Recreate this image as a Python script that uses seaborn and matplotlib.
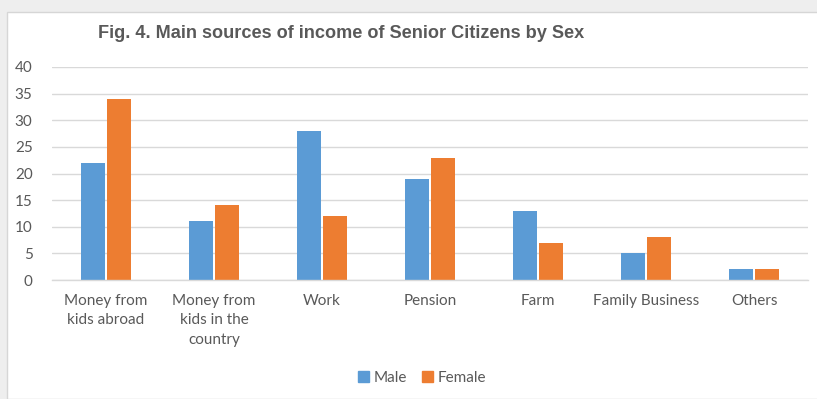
import matplotlib
matplotlib.use("Agg")
import matplotlib.pyplot as plt
import matplotlib.patches as mpatches
import seaborn as sns
import pandas as pd

categories = ["Money from\nkids abroad", "Money from\nkids in the\ncountry", "Work", "Pension",
              "Farm", "Family Business", "Others"]
male = [22, 11, 28, 19, 13, 5, 2]
female = [34, 14, 12, 23, 7, 8, 2]
series = ["Male", "Female"]
colors = ["#5B9BD5", "#ED7D31"]
yticks = [0, 5, 10, 15, 20, 25, 30, 35, 40]

df = pd.DataFrame({
    "Category": categories * 2,
    "Value": male + female,
    "Sex": [series[0]] * len(categories) + [series[1]] * len(categories),
})

sns.set_theme(style="white")
plt.rcParams['font.family'] = ['Lato', 'DejaVu Sans']

fig = plt.figure(figsize=(8.17, 3.99), dpi=100, facecolor="#eeeeee")
panel = mpatches.Rectangle((7 / 817, 0), 1, (399 - 12) / 399, transform=fig.transFigure,
                           facecolor="white", edgecolor="#d6d6d6", linewidth=1, zorder=-5)
fig.patches.append(panel)

ax = fig.add_axes([52 / 817, 1 - 280 / 399, 756 / 817, (280 - 67) / 399])
ax.set_facecolor("none")
ax.set_zorder(2)

sns.barplot(data=df, x="Category", y="Value", hue="Sex", hue_order=series,
            palette=colors, width=0.49, gap=0.1, ax=ax, saturation=1, legend=True,
            linewidth=0)

ax.set_xlim(-0.5, len(categories) - 0.5)
ax.set_ylim(0, 40)
ax.set_yticks(yticks)
ax.yaxis.grid(True, color="#d9d9d9", linewidth=1)
ax.set_axisbelow(True)
for s in ["top", "right", "left"]:
    ax.spines[s].set_visible(False)
ax.spines["bottom"].set_color("#d9d9d9")
ax.spines["bottom"].set_linewidth(1)
ax.tick_params(axis="both", length=0, colors="#595959", labelsize=11)
ax.tick_params(axis="x", pad=10)
ax.tick_params(axis="y", pad=14)
for lbl in ax.get_xticklabels():
    lbl.set_linespacing(1.5)
ax.set_xlabel("")
ax.set_ylabel("")

ax.legend_.remove()
handles = [mpatches.Patch(color=c, label=l) for c, l in zip(colors, series)]
leg = fig.legend(handles=handles, loc="center", bbox_to_anchor=(422 / 817, 1 - 378 / 399), ncol=2,
                 frameon=False, fontsize=11, handlelength=0.7, handleheight=0.7,
                 handletextpad=0.3, columnspacing=1.0, labelcolor="#595959")

fig.text(98 / 817, 1 - 33 / 399, "Fig. 4. Main sources of income of Senior Citizens by Sex",
         fontsize=13.1, fontweight="bold", color="#595959", va="center", ha="left",
         family=["Liberation Sans", "DejaVu Sans"])

fig.savefig("out.png", dpi=100, facecolor=fig.get_facecolor())
